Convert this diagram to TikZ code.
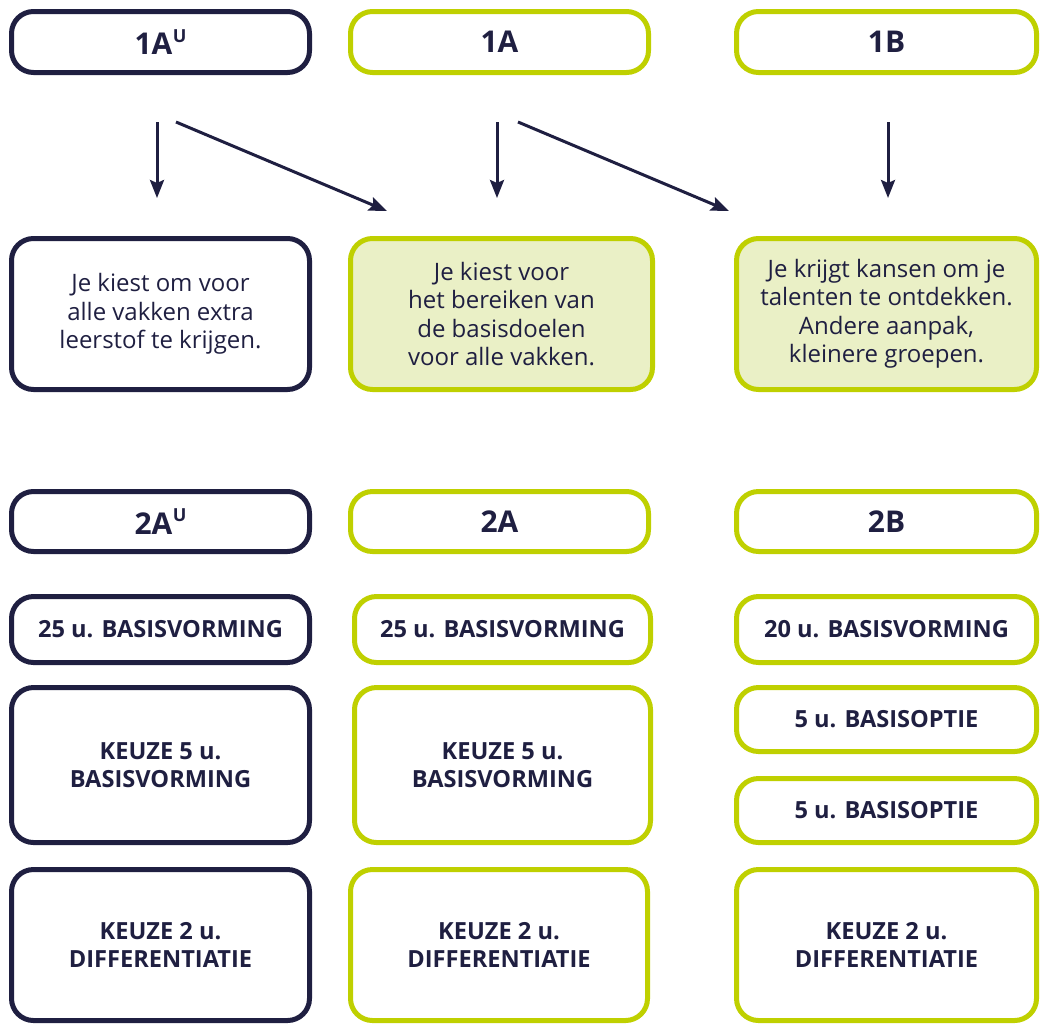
\documentclass[tikz,border=0pt]{standalone}
\usepackage{fontspec}
\setmainfont{Open Sans}
\usetikzlibrary{arrows.meta}
\definecolor{navy}{HTML}{1F1F41}
\definecolor{lime}{HTML}{BFD000}
\definecolor{limefill}{HTML}{EAF0C6}
\tikzstyle{base}=[rounded corners=22pt,line width=5pt,align=center,text=navy,inner sep=0pt,minimum width=298pt]
\tikzstyle{dark}=[base,draw=navy]
\tikzstyle{limebox}=[base,draw=lime]
\tikzstyle{head}=[font=\fontsize{30}{34}\selectfont\bfseries]
\tikzstyle{info}=[font=\fontsize{24}{28.5}\selectfont]
\tikzstyle{hours}=[font=\fontsize{23.6}{28.5}\selectfont\bfseries]
\tikzstyle{arr}=[draw=navy,line width=3pt,-{Stealth[length=18pt,width=14pt,inset=3pt]}]
\newcommand{\up}{\kern0.5pt\raisebox{0.42em}{\fontsize{18}{18}\selectfont\bfseries U}}

\begin{document}
\begin{tikzpicture}[x=1pt,y=-1pt]
		\useasboundingbox (0,0) rectangle (1040,1023);
		% first year
		\node (1au) at (160.5,42) [dark,minimum height=61pt,head] {1A\up};
		\node (1a) at (499.5,42) [limebox,minimum height=61pt,head] {1A};
		\node (1b) at (886.5,42) [limebox,minimum width=300pt,minimum height=61pt,head] {1B};
		
		\node (d1) at (160.5,314) [dark,minimum height=151pt,info] {Je kiest om voor\\alle vakken extra\\leerstof te krijgen.};
		\node (d2) at (501.5,314) [limebox,fill=limefill,minimum width=302pt,minimum height=151pt,info] {Je kiest voor\\het bereiken van\\de basisdoelen\\voor alle vakken.};
		\node (d3) at (886.5,314) [limebox,fill=limefill,minimum width=300pt,minimum height=151pt,info] {Je krijgt kansen om je\\talenten te ontdekken.\\Andere aanpak,\\kleinere groepen.};
		
		\coordinate (p1) at (157,122);
		\coordinate (q1) at (157,198);
		\coordinate (p2) at (176,122);
		\coordinate (q2) at (387,211);
		\coordinate (p3) at (497,122);
		\coordinate (q3) at (497,198);
		\coordinate (p4) at (518,122);
		\coordinate (q4) at (729,211);
		\coordinate (p5) at (888,122);
		\coordinate (q5) at (888,198);
		\draw[arr] (p1) -- (q1);
		\draw[arr] (p2) -- (q2);
		\draw[arr] (p3) -- (q3);
		\draw[arr] (p4) -- (q4);
		\draw[arr] (p5) -- (q5);
		
		% second year
		\node (2au) at (160.5,521.5) [dark,minimum height=60pt,head] {2A\up};
		\node (2a) at (499.5,521.5) [limebox,minimum height=60pt,head] {2A};
		\node (2b) at (886.5,521.5) [limebox,minimum width=300pt,minimum height=60pt,head] {2B};
		
		\node (b1) at (160.5,629.5) [dark,minimum height=66pt,hours] {25 u. BASISVORMING};
		\node (b2) at (502.5,629.5) [limebox,minimum width=296pt,minimum height=66pt,hours] {25 u. BASISVORMING};
		\node (b3) at (886.5,629.5) [limebox,minimum width=300pt,minimum height=66pt,hours] {20 u. BASISVORMING};
		
		\node (k1) at (160.5,765) [dark,minimum height=155pt,hours] {KEUZE 5 u.\\BASISVORMING};
		\node (k2) at (502.5,765) [limebox,minimum width=296pt,minimum height=155pt,hours] {KEUZE 5 u.\\BASISVORMING};
		\node (o1) at (886.5,719.5) [limebox,minimum width=300pt,minimum height=64pt,hours] {5 u. BASISOPTIE};
		\node (o2) at (886.5,810.5) [limebox,minimum width=300pt,minimum height=64pt,hours] {5 u. BASISOPTIE};
		
		\node (e1) at (160.5,945) [dark,minimum height=151pt,hours] {KEUZE 2 u.\\DIFFERENTIATIE};
		\node (e2) at (499,945) [limebox,minimum width=297pt,minimum height=151pt,hours] {KEUZE 2 u.\\DIFFERENTIATIE};
		\node (e3) at (886.5,945) [limebox,minimum width=300pt,minimum height=151pt,hours] {KEUZE 2 u.\\DIFFERENTIATIE};
	\end{tikzpicture}
\end{document}
